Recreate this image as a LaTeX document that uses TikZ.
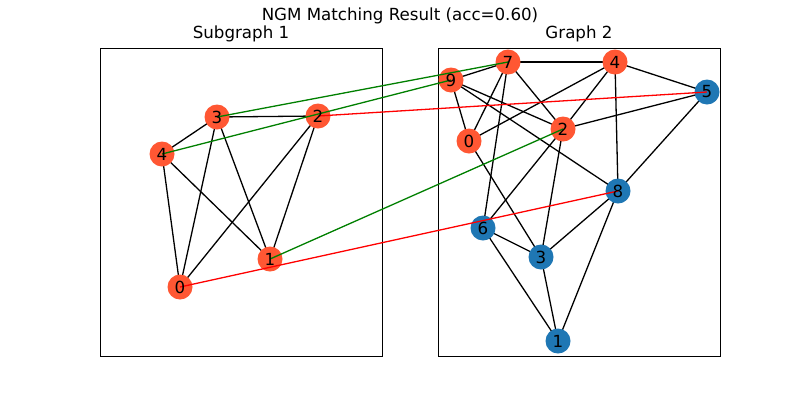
\documentclass[tikz,border=0pt]{standalone}
\usepackage{fontspec}
\setmainfont{DejaVu Sans}
\definecolor{nodeor}{HTML}{FF5733}
\definecolor{nodebl}{HTML}{1F77B4}
\definecolor{mgreen}{HTML}{008000}
\definecolor{mred}{HTML}{FF0000}
\pgfdeclarelayer{edges}
\pgfdeclarelayer{labels}
\pgfsetlayers{edges,main,labels}
\tikzset{
  gnode/.style={circle, minimum size=25pt, inner sep=0pt, fill=#1},
  gedge/.style={draw=black, line width=1.3pt},
  okline/.style={draw=mgreen, line width=1.3pt},
  badline/.style={draw=mred, line width=1.3pt},
  panel/.style={draw=black, line width=0.9pt},
  ttl/.style={font=\fontsize{16.67}{18}\selectfont, inner sep=0pt},
  lbl/.style={font=\fontsize{16.67}{18}\selectfont, inner sep=0pt}
}
\begin{document}
\begin{tikzpicture}[x=1pt,y=-1pt]
\useasboundingbox (0,0) rectangle (800,400);
\begin{pgfonlayer}{edges}
\fill[white] (0,0) rectangle (800,400);
\end{pgfonlayer}
% titles
\node[ttl] (title) at (400,16) {NGM Matching Result (acc=0.60)};
\node[ttl] (t1) at (241,34) {Subgraph 1};
\node[ttl] (t2) at (579,34) {Graph 2};
% panels
\draw[panel] (100,48) rectangle (382,356);
\draw[panel] (438,48) rectangle (720,356);
% left nodes
\node[gnode=nodeor] (a3) at (217,117) {};
\node[gnode=nodeor] (a2) at (318,116) {};
\node[gnode=nodeor] (a4) at (162,154) {};
\node[gnode=nodeor] (a1) at (270,259) {};
\node[gnode=nodeor] (a0) at (180,287) {};
% right nodes
\node[gnode=nodeor] (b7) at (508,62) {};
\node[gnode=nodeor] (b4) at (615,62) {};
\node[gnode=nodeor] (b9) at (451,80) {};
\node[gnode=nodebl] (b5) at (707,92) {};
\node[gnode=nodeor] (b2) at (563,129) {};
\node[gnode=nodeor] (b0) at (469,141) {};
\node[gnode=nodebl] (b8) at (618,191) {};
\node[gnode=nodebl] (b6) at (483,228) {};
\node[gnode=nodebl] (b3) at (541,257) {};
\node[gnode=nodebl] (b1) at (558,341) {};
% edges behind nodes
\begin{pgfonlayer}{edges}
\foreach \u/\v in {a3/a4,a3/a2,a3/a0,a3/a1,a4/a0,a4/a1,a2/a0,a2/a1}
  \draw[gedge] (\u.center) -- (\v.center);
\foreach \u/\v in {b7/b4,b7/b9,b7/b0,b7/b2,b7/b6,b4/b5,b4/b0,b4/b2,b4/b8,b9/b0,b9/b2,b9/b8,b5/b2,b5/b8,b2/b6,b2/b3,b0/b3,b8/b3,b8/b1,b6/b3,b6/b1,b3/b1}
  \draw[gedge] (\u.center) -- (\v.center);
\end{pgfonlayer}
% matching lines over nodes
\draw[okline] (a3.center) -- (b7.center);
\draw[okline] (a4.center) -- (b9.center);
\draw[okline] (a1.center) -- (b2.center);
\draw[badline] (a2.center) -- (b5.center);
\draw[badline] (a0.center) -- (b8.center);
% labels on top
\begin{pgfonlayer}{labels}
\foreach \n/\t in {a3/3,a2/2,a4/4,a1/1,a0/0,b7/7,b4/4,b9/9,b5/5,b2/2,b0/0,b8/8,b6/6,b3/3,b1/1}
  \node[lbl] (l\n) at (\n.center) {\t};
\end{pgfonlayer}
\end{tikzpicture}
\end{document}
